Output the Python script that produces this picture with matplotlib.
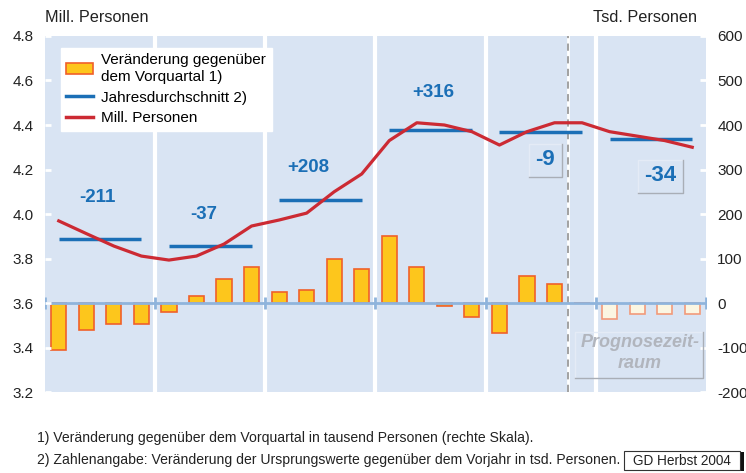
import numpy as np
import matplotlib.pyplot as plt
from matplotlib.lines import Line2D
from matplotlib.patches import Patch, Rectangle

plt.rcParams['font.family'] = ['Liberation Sans', 'DejaVu Sans']
plt.rcParams['axes.unicode_minus'] = False

# data
years = ["2000", "2001", "2002", "2003", "2004", "2005"]
# change vs previous quarter, thousand persons (right scale)
change = [-106, -60, -47, -48,
          -20, 15, 54, 80,
          24, 30, 100, 76,
          150, 80, -7, -31,
          -68, 61, 42, 0,
          -36, -25, -25, -25]
# persons in millions (left scale)
persons = [3.969, 3.912, 3.856, 3.811,
           3.793, 3.811, 3.865, 3.946,
           3.973, 4.004, 4.100, 4.180,
           4.330, 4.410, 4.400, 4.370,
           4.310, 4.370, 4.410, 4.410,
           4.370, 4.350, 4.330, 4.300]
# annual averages (left scale)
annual_avg = [3.888, 3.855, 4.063, 4.377, 4.370, 4.335]
annual_labels = ["-211", "-37", "+208", "+316", "-9", "-34"]
label_pos = [(1.42, 4.072), (5.27, 4.000), (9.05, 4.207),
             (13.59, 4.544), (17.66, 4.243), (21.83, 4.171)]
forecast_from = 20  # first forecast quarter index

bar_fill = "#fdc61c"
bar_edge = "#f0602a"
fc_fill = "#fbf6e2"
fc_edge = "#f29a7a"
blue = "#1b6fb6"
red = "#cc2a33"
bg = "#d9e4f3"

fig = plt.figure(figsize=(7.46, 4.73), dpi=100)
ax2 = fig.add_axes([0.0603, 0.1712, 0.8861, 0.7527])
ax = ax2.twinx()
ax.set_zorder(ax2.get_zorder() + 1)
ax.patch.set_visible(False)
ax2.set_facecolor(bg)

x = np.arange(len(change))
n = len(change)

# year separators
for b in range(4, n, 4):
    ax2.axvline(b - 0.5, color="white", lw=3, zorder=1)
# forecast marker
ax2.axvline(forecast_from - 1.5, color="white", lw=2, zorder=1)
ax2.axvline(forecast_from - 1.5, color="#9a9a9a", lw=1.3, ls=(0, (4, 3)), zorder=1.5)

fills = [bar_fill if i < forecast_from else fc_fill for i in x]
edges = [bar_edge if i < forecast_from else fc_edge for i in x]
ax2.bar(x, change, width=0.55, color=fills, edgecolor=edges, linewidth=1.2, zorder=3)
ax2.axhline(0, color="#8fb4dc", lw=2, zorder=4)
ax2.plot([b - 0.5 for b in range(0, n + 1, 4)], [0] * (n // 4 + 1), ls="none",
         marker="|", ms=9, mew=2, color="#8fb4dc", zorder=4)

ax2.set_xlim(-0.5, n - 0.5)
ax2.set_ylim(-200, 600)
ax2.set_yticks(range(-200, 601, 100))

ax.set_ylim(3.2, 4.8)
ax.set_xlim(-0.5, n - 0.5)

# annual averages + persons line
for i, v in enumerate(annual_avg):
    ax.plot([4 * i, 4 * i + 3], [v, v], color=blue, lw=2.5, solid_capstyle="butt", zorder=5)
ax.plot(x, persons, color=red, lw=2.3, zorder=6)

for lab, (lx, ly) in zip(annual_labels, label_pos):
    fs = 16 if lab in ("-9", "-34") else 13.5
    ax.text(lx, ly, lab, color=blue, fontsize=fs, fontweight="bold", ha="center", va="center", zorder=7)

# beveled boxes around forecast labels
def bevel(a, x0, y0, x1, y1):
    a.plot([x0, x0, x1], [y0, y1, y1], color="#e4ebf6", lw=1, transform=a.transAxes, zorder=6, clip_on=False)
    a.plot([x0, x1, x1], [y0, y0, y1], color="#a9aeb6", lw=1, transform=a.transAxes, zorder=6, clip_on=False)

bevel(ax, 0.732, 0.605, 0.782, 0.697)
bevel(ax, 0.897, 0.560, 0.965, 0.653)
bevel(ax, 0.802, 0.039, 0.995, 0.168)
ax.text(0.900, 0.138, "Prognosezeit-", transform=ax.transAxes, ha="center", va="center",
        fontsize=13, fontweight="bold", fontstyle="italic", color="#b1b5bd")
ax.text(0.900, 0.081, "raum", transform=ax.transAxes, ha="center", va="center",
        fontsize=13, fontweight="bold", fontstyle="italic", color="#b1b5bd")

# axes styling
for a in (ax, ax2):
    for s in a.spines.values():
        s.set_visible(False)
ax.yaxis.tick_left()
ax2.yaxis.tick_right()
ax.set_yticks(np.arange(3.2, 4.81, 0.2))
ax.set_yticklabels([f"{v:.1f}" for v in np.arange(3.2, 4.81, 0.2)])
ax.tick_params(axis="y", direction="in", color="white", length=4, width=2, labelsize=11, pad=8, labelcolor="#222222")
ax2.tick_params(axis="y", direction="in", color="white", length=4, width=2, labelsize=11, pad=8, labelcolor="#222222")
ax2.set_xticks([4 * i + 1.5 for i in range(len(years))])
ax2.set_xticklabels(years)
ax2.tick_params(axis="x", direction="in", color="white", length=4, width=2, labelsize=11, pad=11, labelcolor="#222222")
ax.set_xticks([])

# legend
handles = [Patch(facecolor=bar_fill, edgecolor=bar_edge, lw=1.2),
           Line2D([], [], color=blue, lw=2.5),
           Line2D([], [], color=red, lw=2.5)]
leg = ax.legend(handles, ["Veränderung gegenüber\ndem Vorquartal 1)", "Jahresdurchschnitt 2)", "Mill. Personen"],
                loc="upper left", bbox_to_anchor=(0.024, 0.966), fontsize=11, frameon=True, fancybox=False,
                framealpha=1, edgecolor="white", borderpad=0.35, handlelength=1.75, labelspacing=0.45,
                handletextpad=0.55, borderaxespad=0)
leg.set_zorder(10)

fig.text(45 / 746, 1 - 18 / 473, "Mill. Personen", fontsize=11.7, va="center", ha="left", color="#222222")
fig.text(697 / 746, 1 - 18 / 473, "Tsd. Personen", fontsize=11.7, va="center", ha="right", color="#222222")
fig.text(37 / 746, 1 - 438 / 473, "1) Veränderung gegenüber dem Vorquartal in tausend Personen (rechte Skala).",
         fontsize=10.1, va="center", ha="left", color="#222222")
fig.text(37 / 746, 1 - 460 / 473, "2) Zahlenangabe: Veränderung der Ursprungswerte gegenüber dem Vorjahr in tsd. Personen.",
         fontsize=10.1, va="center", ha="left", color="#222222")

fig.patches.append(Rectangle((628 / 746, 1 - 471 / 473), 116 / 746, 19 / 473, transform=fig.transFigure,
                             facecolor="#111111", edgecolor="none"))
fig.patches.append(Rectangle((624 / 746, 1 - 470 / 473), 116 / 746, 19 / 473, transform=fig.transFigure,
                             facecolor="white", edgecolor="#333333", lw=0.8))
fig.text(682 / 746, 1 - 460.5 / 473, "GD Herbst 2004", fontsize=9.8, va="center", ha="center", color="#222222")

fig.savefig("out.png", dpi=100)
